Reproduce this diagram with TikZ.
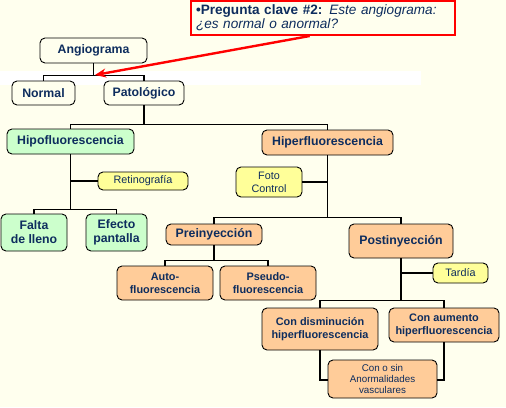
\documentclass[tikz,border=0pt]{standalone}
\usepackage{fontspec}
\setmainfont{Liberation Sans}
\usetikzlibrary{arrows.meta,calc}
\definecolor{bgc}{HTML}{FFFFEE}
\definecolor{navy}{HTML}{0E2D5E}
\definecolor{greenf}{HTML}{CCFFCC}
\definecolor{orangef}{HTML}{FFCC99}
\definecolor{yellowf}{HTML}{FFFF99}
\definecolor{redc}{HTML}{FF0000}
\tikzset{
  box/.style={draw=black, line width=0.9pt, rounded corners=5pt, align=center,
    text=navy, inner sep=0pt, fill=bgc},
  bigb/.style={box, font=\fontsize{12.3}{14}\selectfont\bfseries},
  midb/.style={box, font=\fontsize{10.9}{13}\selectfont\bfseries},
  regb/.style={box, font=\fontsize{10.8}{13}\selectfont},
  smallb/.style={box, font=\fontsize{9.8}{11}\selectfont},
  grn/.style={fill=greenf},
  org/.style={fill=orangef},
  yel/.style={fill=yellowf},
  conn/.style={line width=1.6pt, draw=black},
}
\begin{document}
\begin{tikzpicture}[x=1pt,y=-1pt]
\useasboundingbox[fill=bgc] (0,0) rectangle (506,407);
\fill[white] (0,71) rectangle (421,85);

% question
\node[draw=redc, line width=2pt, fill=bgc, minimum width=264pt, minimum height=34pt,
  text width=254pt, align=left, inner sep=0pt, text=navy,
  font=\fontsize{13.6}{14}\selectfont] (q) at (323,18)
  {\textbf{•Pregunta clave \#2:} \textit{Este angiograma:}\\\textit{¿es normal o anormal?}};
\coordinate (tip) at (95,75);

% level nodes
\node[bigb, minimum width=107pt, minimum height=25pt] (ang) at (93.5,50.5) {Angiograma};
\node[bigb, minimum width=63pt, minimum height=24pt] (nor) at (43.5,93) {Normal};
\node[bigb, minimum width=80pt, minimum height=24pt] (pat) at (144,93) {Patológico};
\node[bigb, grn, minimum width=127pt, minimum height=25pt] (hipo) at (70.5,141.5) {Hipofluorescencia};
\node[bigb, org, minimum width=131pt, minimum height=25pt] (hiper) at (327.5,142.5) {Hiperfluorescencia};
\node[regb, yel, minimum width=90pt, minimum height=18pt] (ret) at (143,181) {Retinografía};
\node[bigb, grn, minimum width=66pt, minimum height=37pt] (fal) at (34,232.5) {Falta\\de lleno};
\node[bigb, grn, minimum width=61pt, minimum height=37pt] (efe) at (116.5,232.5) {Efecto\\pantalla};
\node[regb, yel, minimum width=66pt, minimum height=30pt] (foto) at (269,182) {Foto\\Control};
\node[bigb, org, minimum width=96pt, minimum height=21pt] (pre) at (214,234.5) {Preinyección};
\node[bigb, org, minimum width=104pt, minimum height=34pt] (post) at (401,241) {Postinyección};
\node[midb, org, minimum width=96pt, minimum height=34pt] (auto) at (165,283) {Auto-\\fluorescencia};
\node[midb, org, minimum width=96pt, minimum height=34pt] (pseu) at (268,283) {Pseudo-\\fluorescencia};
\node[regb, yel, minimum width=55pt, minimum height=20pt] (tar) at (460.5,273) {Tardía};
\node[midb, org, minimum width=116pt, minimum height=42pt] (cdis) at (320,329) {Con disminución\\hiperfluorescencia};
\node[midb, org, minimum width=110pt, minimum height=34pt] (caum) at (444,325) {Con aumento\\hiperfluorescencia};
\node[smallb, org, minimum width=109pt, minimum height=38pt] (cos) at (382.5,379) {Con o sin\\Anormalidades\\vasculares};

% connectors
\draw[conn] (ang.south) -- ++(0,12) -| (nor.north);
\draw[conn] (ang.south) -- ++(0,12) -| (pat.north);
\draw[conn] (pat.south) -- ++(0,19) -| (hipo.north);
\draw[conn] (pat.south) -- ++(0,19) -| (hiper.north);
\draw[conn] (hipo.south) -- ++(0,55) -| (fal.north);
\draw[conn] (hipo.south) -- ++(0,55) -| (efe.north);
\draw[conn] (ret.west) -- (ret.west -| hipo.south);
\draw[conn] (hiper.south) -- ++(0,62) -| (pre.north);
\draw[conn] (hiper.south) -- ++(0,62) -| (post.north);
\draw[conn] (foto.east) -- (foto.east -| hiper.south);
\draw[conn] (pre.south) -- ++(0,15) -| (auto.north);
\draw[conn] (pre.south) -- ++(0,15) -| (pseu.north);
\draw[conn] (post.south) -- ++(0,42) -| (cdis.north);
\draw[conn] (post.south) -- ++(0,42) -| (caum.north);
\draw[conn] (tar.west) -- (tar.west -| post.south);
\draw[conn] (cdis.south) |- ([yshift=-1pt]cos.west);
\draw[conn] (caum.south) |- ([yshift=-1pt]cos.east);

% arrow
\draw[draw=redc, line width=2.4pt, -{Stealth[length=11pt,width=9pt]}]
  ($(q.south west)!0.45!(q.south east)$) -- (tip);
\end{tikzpicture}
\end{document}
